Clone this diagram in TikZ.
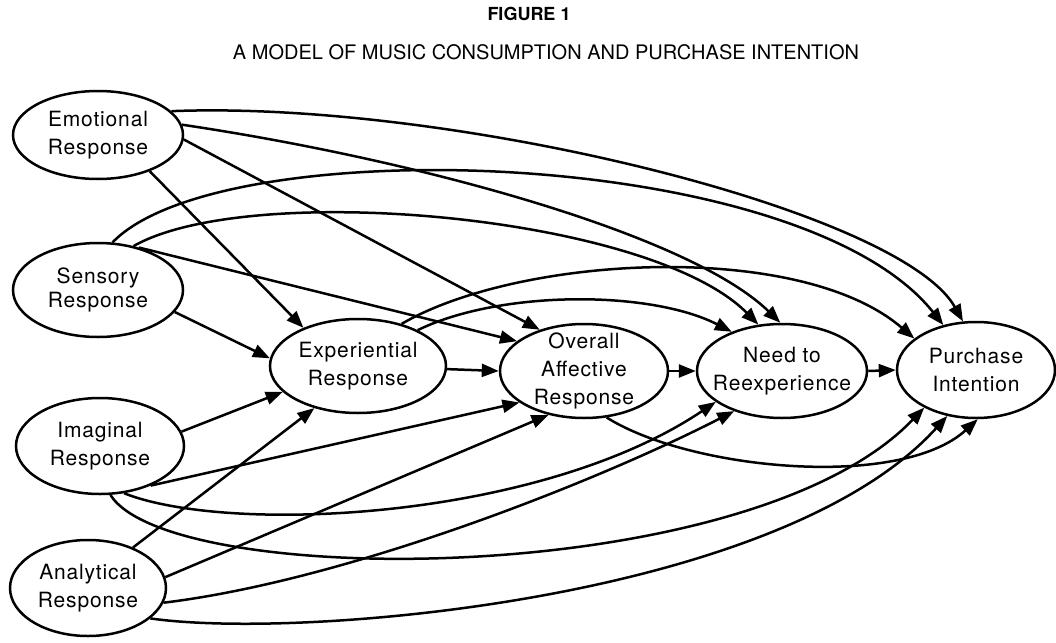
\documentclass[tikz,border=0pt]{standalone}
\usepackage{fontspec}
\setmainfont{TeX Gyre Heros}
\newfontfamily\nodefont[LetterSpace=4]{TeX Gyre Heros}
\usetikzlibrary{shapes.geometric,arrows.meta}
\begin{document}
\begin{tikzpicture}[x=1pt,y=-1pt,
  box/.style={ellipse,draw,line width=2.5pt,inner xsep=-20pt,inner ysep=-15pt,align=center,font=\nodefont\fontsize{21}{28}\selectfont},
  conn/.style={line width=2.5pt,-{Triangle[length=17pt,width=13pt]}},
]
\useasboundingbox (0,0) rectangle (1056,642);
\node[font=\bfseries\fontsize{18}{20}\selectfont] (title) at (529,14) {FIGURE 1};
\node[font=\fontsize{20}{22}\selectfont] (sub) at (546,52) {A MODEL OF MUSIC CONSUMPTION AND PURCHASE INTENTION};

\node[box,minimum width=170pt,minimum height=88pt] (E) at (98,135) {Emotional\\Response};
\node[box,minimum width=170pt,minimum height=94pt] (S) at (98,290) {Sensory\\[-4pt]Response};
\node[box,minimum width=168pt,minimum height=96pt] (I) at (100,446) {Imaginal\\Response};
\node[box,minimum width=156pt,minimum height=96pt] (A) at (88,588) {Analytical\\Response};
\node[box,minimum width=176pt,minimum height=94pt] (Exp) at (358,366) {Experiential\\Response};
\node[box,minimum width=168pt,minimum height=94pt] (OA) at (584,371) {Overall\\Affective\\Response};
\node[box,minimum width=170pt,minimum height=94pt] (Need) at (782,371) {Need to\\Reexperience};
\node[box,minimum width=158pt,minimum height=96pt] (P) at (976,370) {Purchase\\Intention};

\draw[conn] (E.-35) -- (Exp.145);
\draw[conn] (E.-3) -- (OA.137);
\draw[conn] (E.7) .. controls (420,160) and (690,235) .. (Need.92);
\draw[conn] (E.18) .. controls (450,100) and (900,210) .. (P.105);
\draw[conn] (S.-16) -- (Exp.175);
\draw[conn] (S.46) -- (OA.156);
\draw[conn] (S.51) .. controls (250,180) and (650,215) .. (Need.117);
\draw[conn] (S.73) .. controls (220,130) and (800,145) .. (P.126);
\draw[conn] (I.10) -- (Exp.199);
\draw[conn] (I.-38) -- (OA.206);
\draw[conn] (I.-63) .. controls (230,535) and (540,520) .. (Need.205);
\draw[conn] (I.-78) .. controls (170,590) and (750,590) .. (P.216);
\draw[conn] (A.42) -- (Exp.224);
\draw[conn] (A.8) -- (OA.231);
\draw[conn] (A.-11) .. controls (350,580) and (600,480) .. (Need.220);
\draw[conn] (A.-26) .. controls (300,640) and (780,600) .. (P.238);
\draw[conn] (Exp.-2) -- (OA.180);
\draw[conn] (Exp.31) .. controls (500,290) and (650,290) .. (Need.142);
\draw[conn] (Exp.44) .. controls (520,255) and (800,240) .. (P.153);
\draw[conn] (OA.0) -- (Need.180);
\draw[conn] (OA.-64) .. controls (690,470) and (900,490) .. (P.-88);
\draw[conn] (Need.0) -- (P.180);
\end{tikzpicture}
\end{document}
